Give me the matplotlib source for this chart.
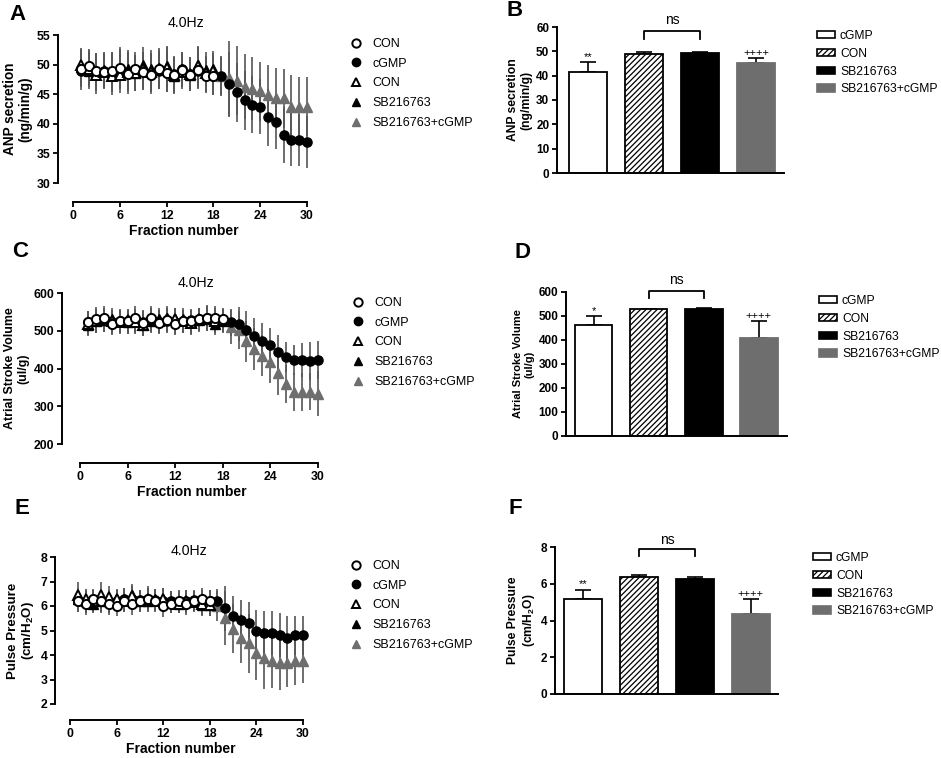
import numpy as np
import matplotlib
matplotlib.use('Agg')
import matplotlib.pyplot as plt
from matplotlib.lines import Line2D
from matplotlib.patches import Patch

plt.rcParams['font.family'] = ['Liberation Sans', 'DejaVu Sans']
plt.rcParams['mathtext.fontset'] = 'custom'
plt.rcParams['mathtext.rm'] = 'Liberation Sans'
plt.rcParams['mathtext.bf'] = 'Liberation Sans:bold'
plt.rcParams['hatch.linewidth'] = 0.9

# ---------------- data ----------------
ctrl_frac = list(range(1, 19))      # fractions 1-18
all_frac = list(range(1, 31))       # fractions 1-30
treat_frac = list(range(19, 31))    # fractions 19-30

series_labels = ['CON', 'cGMP', 'CON', 'SB216763', 'SB216763+cGMP']

# Panel A: ANP secretion (ng/min/g)
anp_con1 = [49.3, 49.8, 48.9, 48.7, 49.0, 49.5, 48.4, 49.2, 48.7, 48.3, 49.2, 48.6, 48.3, 49.1, 48.3, 49.1, 48.1, 48.1]
anp_con1_err = [3.0, 2.8, 3.0, 2.6, 3.2, 3.5, 3.4, 2.9, 3.0, 3.2, 3.0, 3.3, 3.0, 2.8, 2.6, 3.0, 2.9, 3.2]
anp_cgmp = [49.0, 49.5, 48.8, 49.0, 48.8, 49.2, 48.8, 48.5, 48.9, 48.6, 49.0, 48.5, 48.4, 49.2, 48.4, 48.9, 48.3, 48.1,
            48.1, 46.7, 45.3, 44.0, 43.2, 42.9, 41.1, 40.3, 38.1, 37.3, 37.3, 36.9]
anp_cgmp_err = [3.3, 3.0, 3.2, 3.0, 3.3, 3.4, 3.3, 3.0, 3.2, 3.3, 3.1, 3.2, 3.0, 3.0, 2.9, 3.1, 3.0, 3.2,
                3.4, 5.5, 5.0, 5.0, 4.8, 4.6, 4.8, 4.5, 4.8, 4.5, 4.4, 4.4]
anp_con2 = [50.0, 49.2, 48.2, 48.8, 48.0, 48.2, 48.8, 48.6, 49.2, 48.7, 49.2, 49.5, 48.2, 48.8, 48.4, 49.8, 48.5, 49.0]
anp_con2_err = [2.8, 3.0, 3.2, 3.0, 3.1, 3.0, 3.2, 3.0, 3.0, 3.1, 3.3, 3.4, 3.0, 2.9, 2.8, 3.1, 3.0, 3.0]
anp_sb = [49.6, 49.0, 48.7, 49.1, 48.6, 48.9, 49.2, 48.6, 49.9, 49.2, 49.5, 49.8, 48.1, 49.2, 48.2, 50.0, 49.1, 49.3]
anp_sb_err = [3.0, 3.1, 3.0, 3.0, 3.2, 3.0, 3.3, 3.0, 3.0, 3.2, 3.3, 3.3, 3.0, 2.9, 2.7, 3.2, 3.1, 3.0]
anp_sbcgmp = [48.0, 47.7, 47.3, 46.3, 45.9, 45.5, 44.9, 44.3, 44.3, 42.9, 42.9, 42.9]
anp_sbcgmp_err = [3.2, 6.3, 5.8, 5.5, 5.3, 5.0, 5.0, 5.2, 5.0, 5.3, 5.0, 5.0]

# Panel C: Atrial stroke volume (ul/g)
sv_con1 = [522, 530, 535, 517, 527, 525, 535, 520, 535, 520, 528, 518, 525, 525, 530, 535, 535, 530]
sv_con1_err = [30, 32, 30, 28, 30, 31, 30, 32, 30, 28, 30, 30, 29, 30, 31, 32, 30, 30]
sv_cgmp = [522, 525, 528, 522, 525, 522, 527, 522, 528, 524, 525, 522, 525, 528, 530, 533, 530, 528,
           522, 519, 503, 485, 473, 463, 443, 430, 423, 423, 419, 423]
sv_cgmp_err = [30, 32, 30, 30, 31, 30, 30, 32, 30, 30, 30, 30, 30, 30, 31, 32, 30, 30,
               35, 45, 50, 50, 48, 45, 45, 40, 40, 45, 50, 50]
sv_con2 = [518, 525, 530, 525, 522, 528, 522, 515, 530, 525, 530, 530, 525, 520, 530, 530, 525, 528]
sv_con2_err = [30, 30, 31, 30, 30, 30, 30, 30, 30, 30, 30, 31, 30, 30, 30, 30, 30, 30]
sv_sb = [515, 525, 528, 530, 525, 522, 525, 515, 525, 530, 535, 530, 530, 522, 528, 530, 518, 525]
sv_sb_err = [28, 30, 30, 30, 30, 30, 30, 30, 30, 30, 30, 30, 30, 30, 30, 30, 30, 30]
sv_sbcgmp = [510, 501, 472, 451, 434, 416, 388, 359, 337, 337, 339, 333]
sv_sbcgmp_err = [45, 50, 55, 55, 55, 55, 58, 50, 50, 50, 50, 60]

# Panel E: Pulse pressure (cm/H2O)
pp_con1 = [6.2, 6.1, 6.3, 6.2, 6.1, 6.0, 6.2, 6.1, 6.2, 6.3, 6.2, 6.0, 6.1, 6.2, 6.1, 6.2, 6.3, 6.2]
pp_con1_err = [0.45, 0.45, 0.4, 0.5, 0.45, 0.4, 0.45, 0.45, 0.4, 0.5, 0.45, 0.45, 0.4, 0.45, 0.45, 0.4, 0.45, 0.45]
pp_cgmp = [6.2, 6.15, 6.2, 6.2, 6.15, 6.2, 6.3, 6.3, 6.25, 6.3, 6.25, 6.2, 6.2, 6.15, 6.2, 6.25, 6.2, 6.2,
           6.2, 5.9, 5.6, 5.43, 5.32, 4.98, 4.88, 4.9, 4.82, 4.7, 4.8, 4.8]
pp_cgmp_err = [0.45, 0.45, 0.4, 0.45, 0.45, 0.4, 0.45, 0.45, 0.4, 0.45, 0.45, 0.45, 0.4, 0.45, 0.45, 0.4, 0.45, 0.45,
               0.5, 0.9, 0.8, 0.8, 0.85, 0.85, 0.9, 0.9, 0.9, 0.9, 0.8, 0.8]
pp_con2 = [6.45, 6.3, 6.2, 6.45, 6.35, 6.3, 6.2, 6.4, 6.2, 6.3, 6.2, 6.3, 6.15, 6.1, 6.2, 6.15, 6.1, 6.05]
pp_con2_err = [0.55, 0.4, 0.45, 0.55, 0.45, 0.4, 0.45, 0.4, 0.45, 0.45, 0.4, 0.45, 0.45, 0.4, 0.45, 0.4, 0.45, 0.45]
pp_sb = [6.3, 6.2, 6.1, 6.2, 6.2, 6.25, 6.3, 6.45, 6.2, 6.2, 6.3, 6.3, 6.15, 6.1, 6.15, 6.2, 6.05, 6.05]
pp_sb_err = [0.45, 0.45, 0.4, 0.45, 0.45, 0.4, 0.45, 0.45, 0.45, 0.45, 0.4, 0.45, 0.45, 0.4, 0.45, 0.4, 0.45, 0.45]
pp_sbcgmp = [6.0, 5.5, 5.08, 4.68, 4.48, 4.07, 3.87, 3.77, 3.69, 3.68, 3.77, 3.77]
pp_sbcgmp_err = [0.6, 1.1, 1.0, 1.0, 1.2, 1.1, 1.25, 1.1, 1.1, 1.0, 1.0, 0.9]

# Bar panels
bar_groups = ['cGMP', 'CON', 'SB216763', 'SB216763+cGMP']
anp_bar = [41.6, 48.9, 49.4, 45.3]
anp_bar_err = [3.9, 0.8, 0.4, 2.0]
sv_bar = [461, 528, 531, 410]
sv_bar_err = [38, 3, 4, 68]
pp_bar = [5.18, 6.36, 6.25, 4.38]
pp_bar_err = [0.5, 0.1, 0.1, 0.78]
anp_marks = ['**', '', '', '++++']
sv_marks = ['*', '', '', '++++']
pp_marks = ['**', '', '', '++++']

# ---------------- figure ----------------
W, H = 941, 758
fig = plt.figure(figsize=(W / 100, H / 100), dpi=100)

def add_ax(l, t, r, b):
    return fig.add_axes([l / W, 1 - b / H, (r - l) / W, (b - t) / H])

GRAY = '#6e6e6e'
ERRC = '#555555'


def line_panel(ax, con1, con1e, cgmp, cgmpe, con2, con2e, sb, sbe, sbc, sbce,
               ylim, yticks, xlim, ylabel, ylabsize, offset, title_xy, leg_xy):
    for xs, ys, es in [(ctrl_frac, con1, con1e), (all_frac, cgmp, cgmpe),
                       (ctrl_frac, con2, con2e), (ctrl_frac, sb, sbe), (treat_frac, sbc, sbce)]:
        ax.errorbar(xs, ys, yerr=es, fmt='none', ecolor=ERRC, elinewidth=1.2, capsize=0, zorder=1)
    ms = 6.6
    ax.plot(treat_frac, sbc, ls='none', marker='^', ms=ms, mfc=GRAY, mec=GRAY, zorder=3, clip_on=False)
    ax.plot(all_frac, cgmp, ls='none', marker='o', ms=ms, mfc='black', mec='black', zorder=3, clip_on=False)
    ax.plot(ctrl_frac, sb, ls='none', marker='^', ms=ms, mfc='black', mec='black', zorder=4, clip_on=False)
    ax.plot(ctrl_frac, con2, ls='none', marker='^', ms=ms, mfc='white', mec='black', mew=1.4, zorder=5, clip_on=False)
    ax.plot(ctrl_frac, con1, ls='none', marker='o', ms=ms, mfc='white', mec='black', mew=1.4, zorder=6, clip_on=False)

    ax.set_xlim(*xlim)
    ax.set_ylim(*ylim)
    ax.set_xticks([0, 6, 12, 18, 24, 30])
    ax.set_yticks(yticks)
    for s in ['top', 'right']:
        ax.spines[s].set_visible(False)
    ax.spines['bottom'].set_position(('outward', offset))
    ax.spines['bottom'].set_bounds(0, 30)
    ax.spines['left'].set_bounds(ylim[0], ylim[1])
    for s in ['bottom', 'left']:
        ax.spines[s].set_linewidth(1.4)
    ax.tick_params(direction='out', length=3.5, width=1.3, labelsize=8.8, pad=2)
    for lab in ax.get_xticklabels() + ax.get_yticklabels():
        lab.set_fontweight('bold')
    ax.set_xlabel('Fraction number', fontsize=10, fontweight='bold', labelpad=2)
    ax.set_ylabel(ylabel, fontsize=ylabsize, fontweight='bold', labelpad=3, linespacing=1.15)
    fig.text(title_xy[0] / W, 1 - title_xy[1] / H, '4.0Hz', fontsize=10.2, ha='center', va='center')

    handles = [
        Line2D([], [], ls='none', marker='o', ms=6, mfc='white', mec='black', mew=1.4),
        Line2D([], [], ls='none', marker='o', ms=6, mfc='black', mec='black'),
        Line2D([], [], ls='none', marker='^', ms=6, mfc='white', mec='black', mew=1.4),
        Line2D([], [], ls='none', marker='^', ms=6, mfc='black', mec='black'),
        Line2D([], [], ls='none', marker='^', ms=6, mfc=GRAY, mec=GRAY),
    ]
    ax.legend(handles, series_labels, loc='upper left', bbox_to_anchor=(leg_xy[0] / W, 1 - leg_xy[1] / H),
              bbox_transform=fig.transFigure, frameon=False, fontsize=9, handlelength=1.0,
              handletextpad=0.8, labelspacing=0.62, borderpad=0, borderaxespad=0)


def bar_panel(ax, vals, errs, marks, ylim, yticks, xlim, ylabel, ylabsize, br, leg_xy):
    x = np.arange(len(vals))
    faces = ['white', 'white', 'black', GRAY]
    hatches = [None, '//////', None, None]
    edges = ['black', 'black', 'black', GRAY]
    for i in range(len(vals)):
        ax.bar(x[i], vals[i], width=0.68, color=faces[i], edgecolor=edges[i], hatch=hatches[i],
               linewidth=1.3, zorder=2)
    ax.errorbar(x, vals, yerr=[np.zeros(len(vals)), errs], fmt='none', ecolor='black',
                elinewidth=1.2, capsize=6, capthick=1.2, zorder=1)
    rng = ylim[1] - ylim[0]
    for i, m in enumerate(marks):
        if m:
            ax.text(x[i], vals[i] + errs[i] + 0.035 * rng, m, ha='center', va='center', fontsize=8)
    by, ly, ty = br
    ax.plot([1, 1, 2, 2], [ly * ylim[1], by * ylim[1], by * ylim[1], ly * ylim[1]], color='black',
            lw=1.3, clip_on=False)
    ax.text(1.5, ty * ylim[1], 'ns', ha='center', va='center', fontsize=10)
    ax.set_xlim(*xlim)
    ax.set_ylim(*ylim)
    ax.set_yticks(yticks)
    ax.set_xticks([])
    for s in ['top', 'right']:
        ax.spines[s].set_visible(False)
    for s in ['bottom', 'left']:
        ax.spines[s].set_linewidth(1.4)
    ax.tick_params(axis='y', direction='out', length=3.5, width=1.3, labelsize=8.5, pad=2)
    for lab in ax.get_yticklabels():
        lab.set_fontweight('bold')
    ax.set_ylabel(ylabel, fontsize=ylabsize, fontweight='bold', labelpad=3, linespacing=1.15)
    handles = [Patch(facecolor=faces[i], edgecolor=edges[i], hatch=hatches[i],
                     linewidth=1.2) for i in range(4)]
    ax.legend(handles, bar_groups, loc='upper left', bbox_to_anchor=(leg_xy[0] / W, 1 - leg_xy[1] / H),
              bbox_transform=fig.transFigure, frameon=False, fontsize=8.7, handlelength=1.45,
              handleheight=0.55, handletextpad=0.45, labelspacing=0.48, borderpad=0, borderaxespad=0)


# Panel A
axA = add_ax(58, 35, 310, 183)
line_panel(axA, anp_con1, anp_con1_err, anp_cgmp, anp_cgmp_err, anp_con2, anp_con2_err,
           anp_sb, anp_sb_err, anp_sbcgmp, anp_sbcgmp_err,
           (30, 55), [30, 35, 40, 45, 50, 55], (-1.92, 30.38),
           'ANP secretion\n(ng/min/g)', 9.8, 13.7, (186, 23), (350, 38))

# Panel C
axC = add_ax(62, 293, 321, 444)
line_panel(axC, sv_con1, sv_con1_err, sv_cgmp, sv_cgmp_err, sv_con2, sv_con2_err,
           sv_sb, sv_sb_err, sv_sbcgmp, sv_sbcgmp_err,
           (200, 600), [200, 300, 400, 500, 600], (-2.27, 30.4),
           'Atrial Stroke Volume\n(ul/g)', 8.9, 13.7, (196, 283), (352, 297))

# Panel E
axE = add_ax(55, 557, 306, 704)
line_panel(axE, pp_con1, pp_con1_err, pp_cgmp, pp_cgmp_err, pp_con2, pp_con2_err,
           pp_sb, pp_sb_err, pp_sbcgmp, pp_sbcgmp_err,
           (2, 8), [2, 3, 4, 5, 6, 7, 8], (-1.93, 30.4),
           'Pulse Pressure\n(cm/H$_\\mathbf{2}$O)', 9.6, 11.5, (189, 551), (350, 560))

# Panel B
axB = add_ax(557, 27, 784, 173)
bar_panel(axB, anp_bar, anp_bar_err, anp_marks, (0, 60), [0, 10, 20, 30, 40, 50, 60], (-0.55, 3.5),
          'ANP secretion\n(ng/min/g)', 8.7, (0.973, 0.92, 1.045), (817, 30))

# Panel D
axD = add_ax(566, 292, 787, 436)
bar_panel(axD, sv_bar, sv_bar_err, sv_marks, (0, 600), [0, 100, 200, 300, 400, 500, 600], (-0.5, 3.51),
          'Atrial Stroke Volume\n(ul/g)', 8.0, (1.01, 0.96, 1.08), (819, 295))

# Panel F
axF = add_ax(555, 547, 778, 694)
bar_panel(axF, pp_bar, pp_bar_err, pp_marks, (0, 8), [0, 2, 4, 6, 8], (-0.51, 3.49),
          'Pulse Pressure\n(cm/H$_\\mathbf{2}$O)', 8.7, (0.986, 0.936, 1.05), (813, 552))

# Panel letters
for lab, (px, py) in {'A': (17, 15), 'B': (515, 11), 'C': (20, 251), 'D': (522, 253),
                      'E': (22, 508), 'F': (515, 508)}.items():
    fig.text(px / W, 1 - py / H, lab, fontsize=16, fontweight='bold', ha='center', va='center')

fig.savefig('out.png', dpi=100)
